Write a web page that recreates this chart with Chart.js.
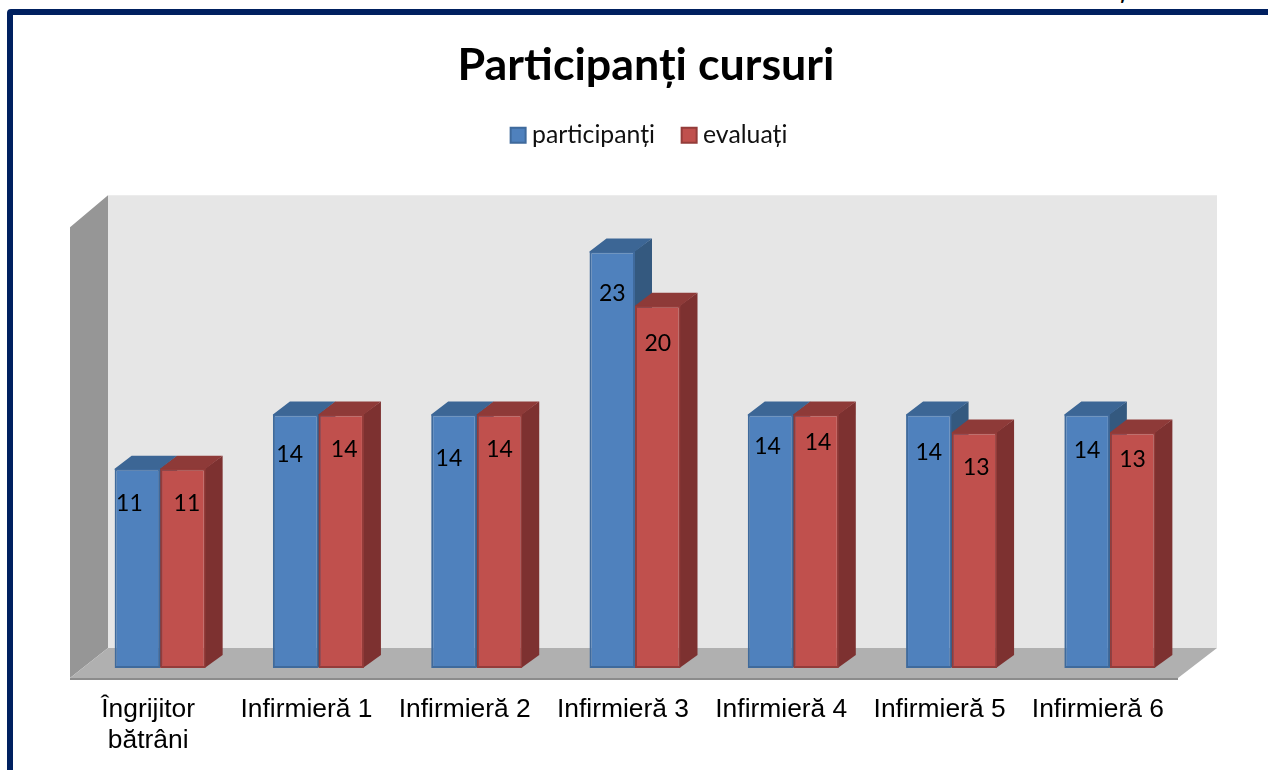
<!DOCTYPE html>
<html lang="ro">
<head>
<meta charset="utf-8">
<title>Participanți cursuri</title>
<script src="https://cdn.jsdelivr.net/npm/chart.js@4/dist/chart.umd.min.js"></script>
<style>
  html, body { margin: 0; padding: 0; background: #fff; overflow: hidden; }
  #page { position: relative; width: 1268px; height: 770px; overflow: hidden; }
  #frame { position: absolute; left: 7px; top: 9px; width: 1400px; height: 900px;
           border: 6px solid #002060; border-top-left-radius: 4px; }
  #cut { position: absolute; left: 1117px; top: -25px; font: bold 24px Lato, sans-serif; color: #000; }
  canvas { position: absolute; left: 0; top: 0; }
</style>
</head>
<body>
<div id="page">
  <div id="frame"></div>
  <div id="cut">ț</div>
  <canvas id="myChart" width="1268" height="770"></canvas>
</div>
<script>
// Datos
var categories = [['Îngrijitor', 'bătrâni'], 'Infirmieră 1', 'Infirmieră 2', 'Infirmieră 3', 'Infirmieră 4', 'Infirmieră 5', 'Infirmieră 6'];
var participanti = [11, 14, 14, 23, 14, 14, 14];
var evaluati = [11, 14, 14, 20, 14, 13, 13];

// Desplazamiento de cada etiqueta respecto al centro y la cima de su barra
var labelShift = [
    [[-8, 35], [-6, 40], [-5, 44], [0, 42], [-3, 32], [0, 38], [0, 36]],
    [[4, 35], [3, 35], [0, 35], [0, 38], [2, 28], [2, 35], [0, 27]]
];

var sideColors = [
    {top: '#3C6695', side: '#34597F'},
    {top: '#8E3A38', side: '#7D3130'}
];

function polygon(ctx, pts, color) {
    ctx.fillStyle = color;
    ctx.beginPath();
    ctx.moveTo(pts[0][0], pts[0][1]);
    for (var i = 1; i < pts.length; i++) ctx.lineTo(pts[i][0], pts[i][1]);
    ctx.closePath();
    ctx.fill();
}

// Paredes, suelo y caras laterales de las barras (efecto 3D)
var box3d = {
    id: 'box3d',
    afterLayout: function(chart) {
        // La leyenda va un poco a la derecha del titulo
        chart.legend.left += 6;
        chart.legend.right += 6;
    },
    beforeDatasetsDraw: function(chart) {
        var ctx = chart.ctx;
        var area = chart.chartArea;
        var y = chart.scales.y;
        var base = y.getPixelForValue(0);
        var top = y.getPixelForValue(25);
        var l = area.left, r = area.right;

        polygon(ctx, [[l + 27, top - 20], [r + 28, top - 20], [r + 28, base - 20], [l + 27, base - 20]], '#E6E6E6');
        polygon(ctx, [[l - 11, top + 12], [l + 27, top - 20], [l + 27, base - 20], [l - 11, base + 10]], '#969696');
        polygon(ctx, [[l - 11, base + 10], [l + 27, base - 20], [r + 28, base - 20], [r - 11, base + 10]], '#B0B0B0');
        polygon(ctx, [[l - 11, base + 10], [r - 11, base + 10], [r - 11, base + 12], [l - 11, base + 12]], '#8C8C8C');

        // Por categoria: primero azul, luego rojo
        var dx = 17, dy = 13;
        for (var i = 0; i < categories.length; i++) {
            for (var d = 0; d < 2; d++) {
                var bar = chart.getDatasetMeta(d).data[i];
                var x0 = bar.x - bar.width / 2, x1 = bar.x + bar.width / 2;
                polygon(ctx, [[x1 - 1, bar.y], [x1 + dx, bar.y - dy], [x1 + dx, bar.base - dy], [x1 - 1, bar.base]], sideColors[d].side);
                polygon(ctx, [[x0, bar.y + 1], [x0, bar.y], [x0 + dx, bar.y - dy], [x1 + dx, bar.y - dy], [x1, bar.y], [x1, bar.y + 1]], sideColors[d].top);
            }
        }
    },
    afterDatasetsDraw: function(chart) {
        var ctx = chart.ctx;
        ctx.save();
        ctx.font = '23px Lato, sans-serif';
        ctx.fillStyle = '#000';
        ctx.textAlign = 'center';
        ctx.textBaseline = 'middle';
        for (var d = 0; d < 2; d++) {
            chart.getDatasetMeta(d).data.forEach(function(bar, i) {
                var s = labelShift[d][i];
                ctx.fillText(chart.data.datasets[d].data[i], bar.x + s[0], bar.y + s[1]);
            });
        }
        ctx.restore();
    }
};

var ctx = document.getElementById('myChart').getContext('2d');
var myChart = new Chart(ctx, {
    type: 'bar',
    data: {
        labels: categories,
        datasets: [{
            label: 'participanți',
            data: participanti,
            backgroundColor: '#4F81BD',
            borderColor: '#3F6A9C',
            borderWidth: 2,
            borderSkipped: false
        }, {
            label: 'evaluați',
            data: evaluati,
            backgroundColor: '#C0504D',
            borderColor: '#943C3A',
            borderWidth: 2,
            borderSkipped: false
        }]
    },
    plugins: [box3d],
    options: {
        responsive: false,
        animation: false,
        layout: { padding: { left: 24, right: 0, top: 0, bottom: 14 } },
        datasets: { bar: { categoryPercentage: 0.575, barPercentage: 1 } },
        plugins: {
            tooltip: { enabled: false },
            title: {
                display: true,
                text: 'Participanți cursuri',
                color: '#000',
                font: { family: 'Lato, sans-serif', size: 44.8, weight: 'bold', lineHeight: 1.1 },
                padding: { top: 41, bottom: 0 }
            },
            legend: {
                position: 'top',
                labels: {
                    usePointStyle: true,
                    pointStyle: 'rect',
                    boxWidth: 3,
                    boxHeight: 15,
                    padding: 32.6,
                    color: '#111',
                    font: { family: 'Lato, sans-serif', size: 24.8 }
                }
            }
        },
        scales: {
            x: {
                grid: { display: false, tickLength: 26 },
                border: { display: false },
                ticks: {
                    color: '#000',
                    font: { family: '"Liberation Sans", Arial, sans-serif', size: 26.4, lineHeight: 1.175 },
                    padding: 0,
                    labelOffset: -12,
                    maxRotation: 0,
                    autoSkip: false
                }
            },
            y: {
                min: 0,
                max: 28.18,
                grid: { display: false },
                border: { display: false },
                ticks: { display: false },
                afterFit: function(axis) { axis.width = 57; }
            },
            // Eje vacio: solo reserva el margen derecho
            yRight: {
                position: 'right',
                display: true,
                grid: { display: false },
                border: { display: false },
                ticks: { display: false },
                afterFit: function(axis) { axis.width = 79; }
            }
        }
    }
});
</script>
</body>
</html>
